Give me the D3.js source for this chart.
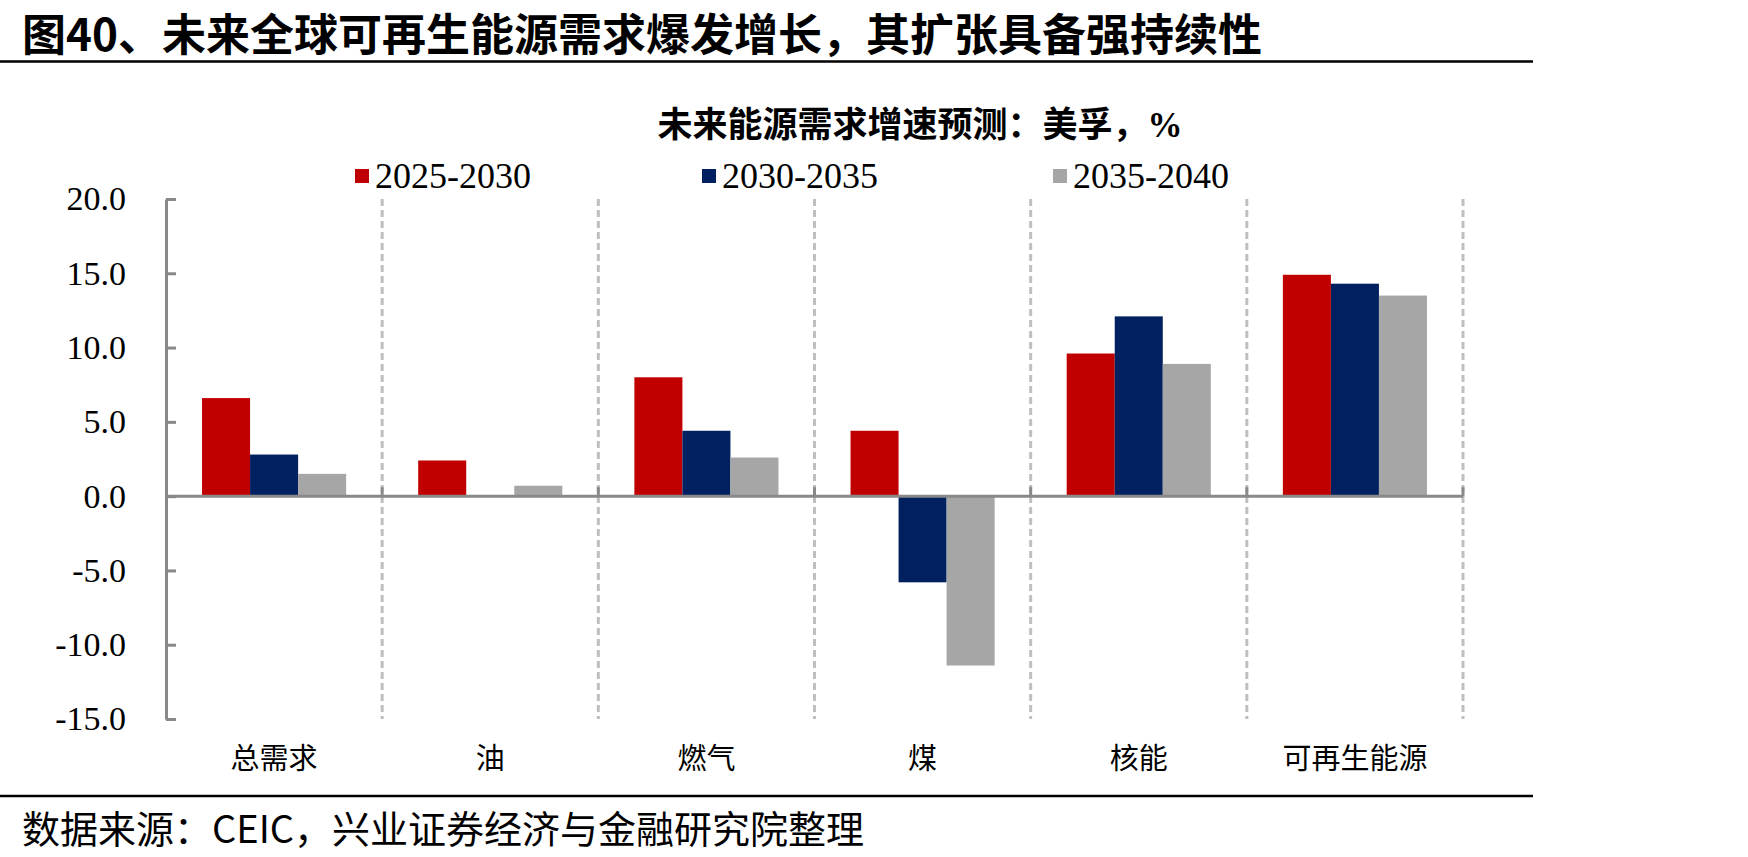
<!DOCTYPE html>
<html>
<head>
<meta charset="utf-8">
<script src="https://cdn.jsdelivr.net/npm/d3@7"></script>
<style>
  html, body { margin: 0; padding: 0; background: #fff; }
  svg { display: block; }
</style>
</head>
<body>
<div id="chart"></div>
<script>
// chart values
const categories = ['总需求', '油', '燃气', '煤', '核能', '可再生能源'];
const seriesNames = ['2025-2030', '2030-2035', '2035-2040'];
const values2025 = [6.6, 2.4, 8.0, 4.4, 9.6, 14.9];
const values2030 = [2.8, 0.0, 4.4, -5.8, 12.1, 14.3];
const values2035 = [1.5, 0.7, 2.6, -11.4, 8.9, 13.5];
const yTickValues = [-15, -10, -5, 0, 5, 10, 15, 20];
const seriesColors = ['#C00000', '#002060', '#A6A6A6'];

const titleText = '图40、未来全球可再生能源需求爆发增长，其扩张具备强持续性';
const subtitleText = '未来能源需求增速预测：美孚，%';
const sourceText = '数据来源：CEIC，兴业证券经济与金融研究院整理';

const width = 1748;
const height = 857;
const plot = { left: 166, right: 1463, top: 199, bottom: 719 };

const seriesValues = [values2025, values2030, values2035];
const table = categories.map((c, i) => ({
  category: c,
  values: seriesNames.map((s, j) => ({ key: s, value: seriesValues[j][i], color: seriesColors[j] })),
}));

const svg = d3
  .select('#chart')
  .append('svg')
  .attr('width', width)
  .attr('height', height)
  .style('background', '#fff');

// title + rules
svg
  .append('text')
  .attr('x', 22)
  .attr('y', 51)
  .style('font-family', '"Noto Sans CJK SC", sans-serif')
  .style('font-weight', 700)
  .style('font-size', '44px')
  .attr('fill', '#000')
  .text(titleText);

svg.append('line')
  .attr('x1', 0).attr('x2', 1533)
  .attr('y1', 61.5).attr('y2', 61.5)
  .attr('stroke', '#000').attr('stroke-width', 2.5);

svg.append('line')
  .attr('x1', 0).attr('x2', 1533)
  .attr('y1', 796).attr('y2', 796)
  .attr('stroke', '#000').attr('stroke-width', 2.5);

svg
  .append('text')
  .attr('x', 22)
  .attr('y', 826)
  .attr('dominant-baseline', 'central')
  .style('font-family', '"Noto Sans CJK SC", sans-serif')
  .style('font-size', '38px')
  .attr('fill', '#000')
  .text(sourceText);

// subtitle
svg
  .append('text')
  .attr('x', 920)
  .attr('y', 125)
  .attr('text-anchor', 'middle')
  .attr('dominant-baseline', 'central')
  .style('font-family', '"Liberation Serif", "Noto Sans CJK SC", serif')
  .style('font-weight', 700)
  .style('font-size', '35px')
  .attr('fill', '#000')
  .text(subtitleText);

// scales
const x0 = d3.scaleBand().domain(categories).range([plot.left, plot.right]).padding(0);
const x1 = d3
  .scaleBand()
  .domain(seriesNames)
  .range([0, x0.bandwidth()])
  .paddingInner(0)
  .paddingOuter(0.75);
const y = d3.scaleLinear().domain([-15, 20]).range([plot.bottom, plot.top]);

// dashed separators between categories
const bounds = categories.map((c) => x0(c) + x0.bandwidth());
svg
  .append('g')
  .selectAll('line')
  .data(bounds)
  .enter()
  .append('line')
  .attr('x1', (d) => d)
  .attr('x2', (d) => d)
  .attr('y1', plot.top)
  .attr('y2', plot.bottom)
  .attr('stroke', '#bfbfbf')
  .attr('stroke-width', 3)
  .attr('stroke-dasharray', '7,4');

// bars
const groups = svg
  .append('g')
  .selectAll('g')
  .data(table)
  .enter()
  .append('g')
  .attr('transform', (d) => `translate(${x0(d.category)},0)`);

groups
  .selectAll('rect')
  .data((d) => d.values.filter((v) => v.value !== 0))
  .enter()
  .append('rect')
  .attr('x', (d) => x1(d.key))
  .attr('width', x1.bandwidth())
  .attr('y', (d) => y(Math.max(0, d.value)))
  .attr('height', (d) => Math.abs(y(d.value) - y(0)))
  .attr('fill', (d) => d.color);

// y axis
const yAxis = d3
  .axisLeft(y)
  .tickValues(yTickValues)
  .tickFormat((d) => d.toFixed(1))
  .tickSizeInner(-10)
  .tickSizeOuter(0)
  .tickPadding(40);

const yg = svg.append('g').attr('transform', `translate(${plot.left},0)`).call(yAxis);
yg.select('.domain').attr('stroke', '#898989').attr('stroke-width', 3);
yg.selectAll('.tick line').attr('stroke', '#898989').attr('stroke-width', 3);
yg.selectAll('.tick text')
  .style('font-family', '"Liberation Serif", "Times New Roman", serif')
  .style('font-size', '34px')
  .attr('fill', '#000');

// zero line + category ticks
svg.append('line')
  .attr('x1', plot.left).attr('x2', plot.right)
  .attr('y1', y(0)).attr('y2', y(0))
  .attr('stroke', '#898989').attr('stroke-width', 3);

svg
  .append('g')
  .selectAll('line')
  .data(bounds)
  .enter()
  .append('line')
  .attr('x1', (d) => d)
  .attr('x2', (d) => d)
  .attr('y1', y(0) - 9)
  .attr('y2', y(0))
  .attr('stroke', '#898989')
  .attr('stroke-width', 3);

// category labels
svg
  .append('g')
  .selectAll('text')
  .data(categories)
  .enter()
  .append('text')
  .attr('x', (d) => x0(d) + x0.bandwidth() / 2)
  .attr('y', 756)
  .attr('text-anchor', 'middle')
  .attr('dominant-baseline', 'central')
  .style('font-family', '"Noto Sans CJK SC", sans-serif')
  .style('font-size', '29px')
  .attr('fill', '#000')
  .text((d) => d);

// legend
const legendX = [355, 702, 1053];
const legend = svg
  .append('g')
  .selectAll('g')
  .data(seriesNames)
  .enter()
  .append('g')
  .attr('transform', (d, i) => `translate(${legendX[i]},176)`);

legend
  .append('rect')
  .attr('x', 0)
  .attr('y', -7)
  .attr('width', 14)
  .attr('height', 14)
  .attr('fill', (d, i) => seriesColors[i]);

legend
  .append('text')
  .attr('x', 20)
  .attr('y', 0)
  .attr('dominant-baseline', 'central')
  .style('font-family', '"Liberation Serif", "Times New Roman", serif')
  .style('font-size', '36px')
  .attr('fill', '#000')
  .text((d) => d);
</script>
</body>
</html>
